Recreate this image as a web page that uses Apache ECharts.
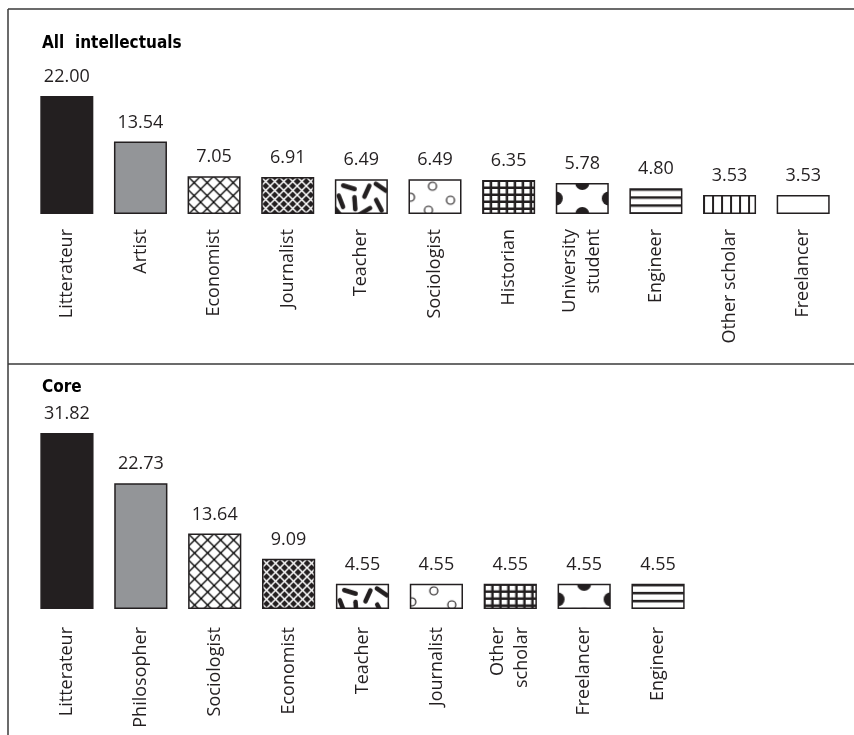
<!DOCTYPE html>
<html>
<head>
<meta charset="utf-8">
<script src="https://cdn.jsdelivr.net/npm/echarts@6/dist/echarts.min.js"></script>
<style>
  html, body { margin: 0; padding: 0; background: #ffffff; }
  #chart { width: 854px; height: 735px; }
</style>
</head>
<body>
<div id="chart"></div>
<script>
// Occupation shares (%) among all intellectuals and among the core group
const allCategories = ['Litterateur', 'Artist', 'Economist', 'Journalist', 'Teacher', 'Sociologist',
  'Historian', 'University\nstudent', 'Engineer', 'Other scholar', 'Freelancer'];
const allValues = [22.00, 13.54, 7.05, 6.91, 6.49, 6.49, 6.35, 5.78, 4.80, 3.53, 3.53];

const coreCategories = ['Litterateur', 'Philosopher', 'Sociologist', 'Economist', 'Teacher',
  'Journalist', 'Other\nscholar', 'Freelancer', 'Engineer'];
const coreValues = [31.82, 22.73, 13.64, 9.09, 4.55, 4.55, 4.55, 4.55, 4.55];

const panelTitles = ['All  intellectuals', 'Core'];

const INK = '#231f20';
const FONT = '"Open Sans", "Noto Sans", sans-serif';
const TITLE_FONT = '"Liberation Sans Narrow", "DejaVu Sans Condensed", Lato, sans-serif';

// Small canvas tiles used as repeating fills for the bars
function tile(w, h, draw) {
  const c = document.createElement('canvas');
  c.width = w; c.height = h;
  const g = c.getContext('2d');
  g.fillStyle = '#ffffff';
  g.fillRect(0, 0, w, h);
  draw(g, w, h);
  return { image: c, repeat: 'repeat' };
}
function cross(g, w, h) {
  g.beginPath();
  g.moveTo(-1, -1); g.lineTo(w + 1, h + 1);
  g.moveTo(w + 1, -1); g.lineTo(-1, h + 1);
  g.stroke();
}
function dot(g, x, y, r, fill) {
  g.beginPath(); g.arc(x, y, r, 0, Math.PI * 2);
  if (fill) g.fill(); else g.stroke();
}

const fills = [
  INK,
  '#939598',
  // open cross-hatch
  tile(13, 13, (g, w, h) => { g.strokeStyle = '#000000'; g.lineWidth = 1.3; cross(g, w, h); }),
  // dense black diamonds
  tile(9, 9, (g, w, h) => {
    g.fillStyle = INK; g.fillRect(0, 0, w, h);
    g.strokeStyle = '#ffffff'; g.lineWidth = 1.5; cross(g, w, h);
  }),
  // confetti strokes
  tile(54, 36, (g) => {
    g.strokeStyle = INK; g.lineWidth = 4.5; g.lineCap = 'round';
    [[6, 22, 1.2], [14, 8, 0.3], [20, 24, 1.5], [32, 12, 2.0], [46, 8, 0.6], [44, 26, 1.1], [30, 32, 2.6], [4, 34, 0.9]]
      .forEach(([x, y, a]) => {
        const dx = Math.cos(a) * 6, dy = Math.sin(a) * 6;
        g.beginPath(); g.moveTo(x - dx, y - dy); g.lineTo(x + dx, y + dy); g.stroke();
      });
  }),
  // sparse open circles
  tile(54, 36, (g) => {
    g.strokeStyle = INK; g.lineWidth = 1.2;
    [[2, 18], [24, 7], [42, 21], [20, 31]].forEach(([x, y]) => dot(g, x, y, 4, false));
  }),
  // black grid with white cells
  tile(8, 7, (g, w, h) => {
    g.fillStyle = INK; g.fillRect(0, 0, w, h);
    g.fillStyle = '#ffffff'; g.fillRect(2, 2, 5.5, 4.5);
  }),
  // large black dots
  tile(53, 31, (g, w, h) => {
    g.fillStyle = INK;
    [[w / 2, 0], [0, h / 2], [w, h / 2], [w / 2, h]].forEach(([x, y]) => dot(g, x, y, 7, true));
  }),
  // horizontal rules
  tile(4, 8, (g, w) => { g.fillStyle = INK; g.fillRect(0, 0, w, 2.5); }),
  // vertical rules
  tile(9, 4, (g, w, h) => { g.fillStyle = INK; g.fillRect(0, 0, 2, h); }),
  '#ffffff'
];

function barData(values) {
  return values.map((v, i) => ({
    value: v,
    itemStyle: { color: typeof fills[i] === 'string' ? fills[i] : { image: fills[i].image, repeat: 'repeat' } }
  }));
}

const labelStyle = {
  fontFamily: FONT,
  fontSize: 18,
  color: INK
};

function xAxisFor(cats, gridIndex, margin) {
  return {
    type: 'category',
    gridIndex: gridIndex,
    data: cats,
    axisLine: { show: false },
    axisTick: { show: false },
    axisLabel: Object.assign({ rotate: 90, interval: 0, margin: margin, lineHeight: 24 }, labelStyle)
  };
}
function yAxisFor(gridIndex) {
  return {
    type: 'value', gridIndex: gridIndex, min: 0, max: 'dataMax',
    show: false, splitLine: { show: false }
  };
}
function seriesFor(values, idx) {
  return {
    type: 'bar',
    xAxisIndex: idx, yAxisIndex: idx,
    barWidth: '72%',
    data: barData(values),
    itemStyle: { borderColor: INK, borderWidth: 1.5 },
    label: Object.assign({
      show: true, position: 'top', distance: 10,
      formatter: (p) => p.value.toFixed(2)
    }, labelStyle)
  };
}

const titleStyle = { fontFamily: TITLE_FONT, fontSize: 17, fontWeight: 'bold', color: '#000' };

const chart = echarts.init(document.getElementById('chart'), null, { renderer: 'canvas' });
chart.setOption({
  animation: false,
  backgroundColor: '#ffffff',
  title: [
    { text: panelTitles[0], left: 42, top: 35, padding: 0, textStyle: titleStyle },
    { text: panelTitles[1], left: 42, top: 379, padding: 0, textStyle: titleStyle }
  ],
  grid: [
    { left: 30, top: 96, width: 810, height: 118 },
    { left: 30, top: 433, width: 665, height: 176 }
  ],
  xAxis: [xAxisFor(allCategories, 0, 15), xAxisFor(coreCategories, 1, 18)],
  yAxis: [yAxisFor(0), yAxisFor(1)],
  series: [seriesFor(allValues, 0), seriesFor(coreValues, 1)],
  graphic: [
    { type: 'line', shape: { x1: 8, y1: 9, x2: 854, y2: 9 }, style: { stroke: '#3a3a3a', lineWidth: 1.5 } },
    { type: 'line', shape: { x1: 8, y1: 9, x2: 8, y2: 735 }, style: { stroke: '#3a3a3a', lineWidth: 1.5 } },
    { type: 'line', shape: { x1: 8, y1: 364, x2: 854, y2: 364 }, style: { stroke: '#3a3a3a', lineWidth: 1.5 } }
  ]
});

// Anchor each pattern tile to the top-left corner of its own bar, using the laid-out bar rects
function anchorPatterns() {
  const model = chart.getModel();
  const series = [allValues, coreValues].map((values, s) => {
    const data = model.getSeriesByIndex(s).getData();
    return {
      data: values.map((v, i) => {
        const f = fills[i];
        if (typeof f === 'string') return { value: v, itemStyle: { color: f } };
        const lay = data.getItemLayout(i);
        const left = Math.min(lay.x, lay.x + lay.width);
        const top = Math.min(lay.y, lay.y + lay.height);
        return { value: v, itemStyle: { color: { image: f.image, repeat: 'repeat', x: left, y: top } } };
      })
    };
  });
  chart.setOption({ series: series });
}
anchorPatterns();
</script>
</body>
</html>
